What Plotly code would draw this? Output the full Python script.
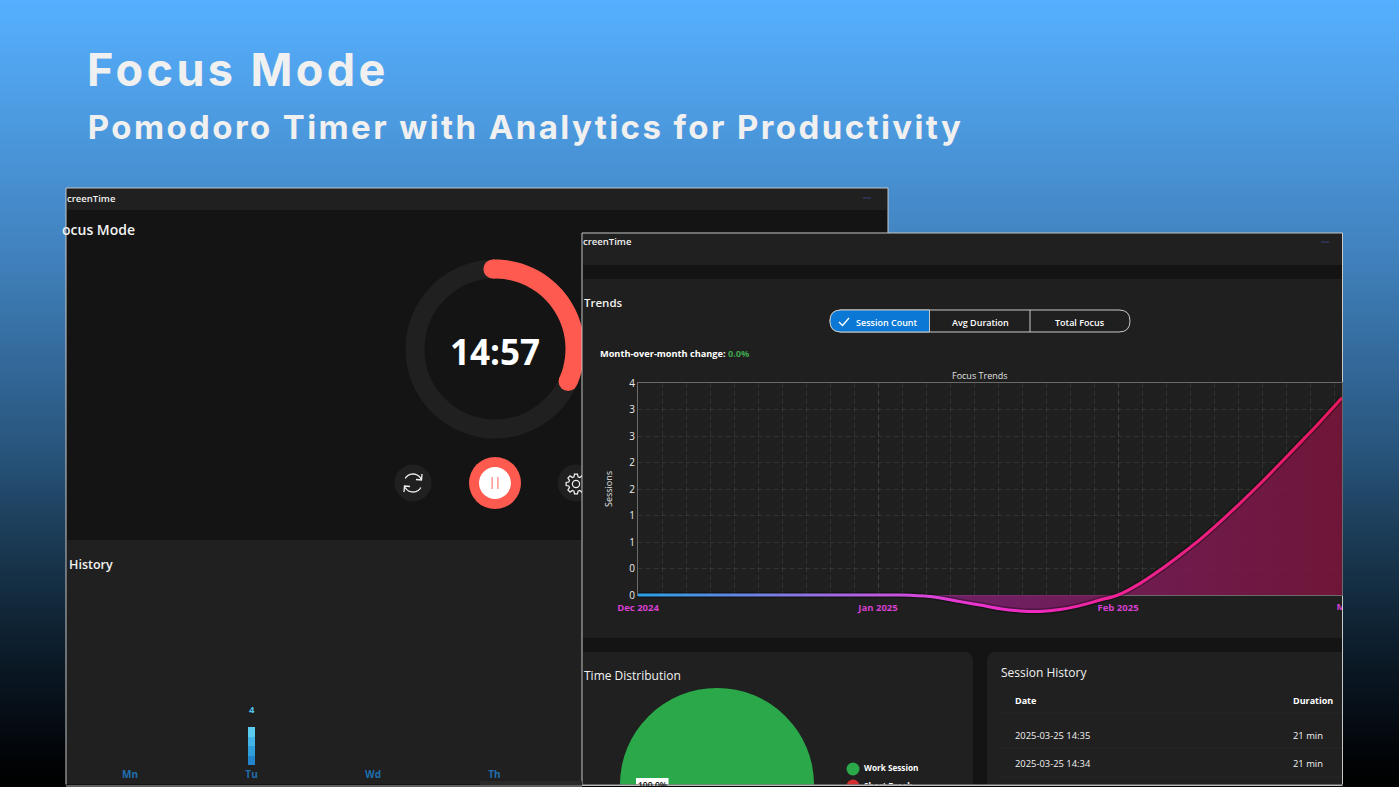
import json

import numpy as np
import plotly.graph_objects as go

PAGE_W = 1399
PAGE_H = 890  # taller than the window so the pie can run off the bottom
SHOT_H = 787

# Focus trends chart
trend_months = ["Dec 2024", "Jan 2025", "Feb 2025", "Mar 2025"]
trend_ticks = [0, 0.5, 1, 1.5, 2, 2.5, 3, 3.5, 4]
trend_tick_text = ["0", "0", "1", "1", "2", "2", "3", "3", "4"]
# position in months after Dec 2024
curve_month = [0, 0.5, 1.0, 1.09, 1.217, 1.342, 1.425, 1.508, 1.592, 1.675, 1.758, 1.842, 1.925, 2.0,
               2.092, 2.175, 2.258, 2.342, 2.425, 2.508, 2.592, 2.675, 2.758, 2.842, 2.933]
curve_sessions = [0, 0, 0, 0, -0.03, -0.125, -0.19, -0.26, -0.3, -0.31, -0.275, -0.2, -0.095, 0,
                  0.22, 0.47, 0.75, 1.05, 1.38, 1.73, 2.1, 2.48, 2.87, 3.27, 3.72]
# line colour along the x axis, as fraction of the plot width
curve_stops = [0, 0.17, 0.34, 0.46, 0.57, 0.68, 1]
curve_colors = ["#28a0e8", "#6e82e4", "#be5ae1", "#e837d2", "#f028be", "#f02396", "#e8185f"]

# Daily history bars
days = ["Mn", "Tu", "Wd", "Th"]
day_sessions = [0, 4, 0, 0]
day_bar_colors = ["#2384cc", "#2f9fdc", "#42b4e8", "#5bcbee"]

# Time distribution pie
dist_labels = ["Work Session", "Short Break"]
dist_values = [100, 0]
dist_colors = ["#2ba84a", "#d32f2f"]

# Session table
session_dates = ["2025-03-25 14:35", "2025-03-25 14:34"]
session_durations = ["21 min", "21 min"]

# Timer ring
timer_start_deg = -1.5
timer_sweep_deg = 115.5


def X(x):
    return x / PAGE_W


def Y(y):
    return 1 - y / PAGE_H


def x_dom(a, b):
    return [X(a), X(b)]


def y_dom(top, bottom):
    return [Y(bottom), Y(top)]


shapes = []
notes = []


def rect(x0, y0, x1, y1, color, layer="below", line_color=None, line_width=0):
    shapes.append(dict(type="rect", xref="paper", yref="paper", x0=X(x0), x1=X(x1), y0=Y(y0), y1=Y(y1),
                       fillcolor=color, layer=layer,
                       line=dict(color=line_color or color, width=line_width)))


def circle(cx, cy, r, color, layer="below", line_color=None, line_width=0):
    shapes.append(dict(type="circle", xref="paper", yref="paper", x0=X(cx - r), x1=X(cx + r), y0=Y(cy - r), y1=Y(cy + r),
                       fillcolor=color, layer=layer,
                       line=dict(color=line_color or color, width=line_width)))


def path(d_points, color, width, fill=None, layer="below"):
    shapes.append(dict(type="path", xref="paper", yref="paper", path=d_points, layer=layer,
                       fillcolor=fill or "rgba(0,0,0,0)", line=dict(color=color, width=width)))


def hline(x0, x1, y0, y1, color, width=1):
    shapes.append(dict(type="line", xref="paper", yref="paper", x0=X(x0), x1=X(x1), y0=Y(y0), y1=Y(y1), layer="below",
                       line=dict(color=color, width=width)))


def pts(points):
    return "M" + " L".join(f"{X(x):.5f},{Y(y):.5f}" for x, y in points)


def rounded(x0, y0, x1, y1, r_left, r_right, bottom_round=True):
    # rounded rectangle path, in pixels
    parts = [f"M{X(x0 + r_left):.5f},{Y(y0):.5f}", f"L{X(x1 - r_right):.5f},{Y(y0):.5f}",
             f"Q{X(x1):.5f},{Y(y0):.5f} {X(x1):.5f},{Y(y0 + r_right):.5f}"]
    if bottom_round:
        parts += [f"L{X(x1):.5f},{Y(y1 - r_right):.5f}", f"Q{X(x1):.5f},{Y(y1):.5f} {X(x1 - r_right):.5f},{Y(y1):.5f}",
                  f"L{X(x0 + r_left):.5f},{Y(y1):.5f}", f"Q{X(x0):.5f},{Y(y1):.5f} {X(x0):.5f},{Y(y1 - r_left):.5f}"]
    else:
        parts += [f"L{X(x1):.5f},{Y(y1):.5f}", f"L{X(x0):.5f},{Y(y1):.5f}"]
    parts += [f"L{X(x0):.5f},{Y(y0 + r_left):.5f}", f"Q{X(x0):.5f},{Y(y0):.5f} {X(x0 + r_left):.5f},{Y(y0):.5f}", "Z"]
    return " ".join(parts)


def arc(cx, cy, r, start, sweep, n=40):
    a = np.radians(np.linspace(start, start + sweep, n))
    return list(zip(cx + r * np.sin(a), cy - r * np.cos(a)))


def gear(cx, cy, r_out, r_in, teeth=8):
    # outline of a cog, going round tooth by tooth
    corners = []
    step = 360 / teeth
    for i in range(teeth):
        base = i * step
        for off, r in [(-0.34, r_in), (-0.2, r_out), (0.2, r_out), (0.34, r_in)]:
            a = np.radians(base + off * step)
            corners.append((cx + r * np.sin(a), cy - r * np.cos(a)))
    return pts(corners) + " Z"


def note(x, y, text, size, color="#f2f2f2", anchor="left", family="Open Sans", weight=400, angle=0):
    notes.append(dict(xref="paper", yref="paper", x=X(x), y=Y(y), text=text, showarrow=False,
                      xanchor=anchor, yanchor="middle", textangle=angle, borderpad=0, borderwidth=0,
                      font=dict(family=family, size=size, color=color, weight=weight)))


# ---- left window
rect(66, 188, 888, 787, "#141414", line_color="#c9c9c9", line_width=1)
rect(67, 189, 887, 210, "#202020")
rect(67, 540, 582, 786, "#202020")
note(67, 198, "creenTime", 9.5, "#f2f2f2", weight=600)
note(62, 229, "ocus Mode", 14, weight=600)
note(69, 564, "History", 12.5, weight=600)
hline(863, 871, 198, 198, "#3b3f7a")

# timer ring
circle(495, 349, 80, "rgba(0,0,0,0)", line_color="#202020", line_width=19)
ring_arc = arc(495, 349, 80, timer_start_deg, timer_sweep_deg)
path(pts(ring_arc), "#ff5a4f", 19)
circle(ring_arc[0][0], ring_arc[0][1], 9.5, "#ff5a4f")
circle(ring_arc[-1][0], ring_arc[-1][1], 9.5, "#ff5a4f")
note(495, 351, "14:57", 35, "#ffffff", "center", weight=700)

# buttons
circle(413, 483, 18.5, "#202020")
path(pts(arc(413, 483, 9, -60, 125)), "#f2f2f2", 1.3)
path(pts(arc(413, 483, 9, 120, 125)), "#f2f2f2", 1.3)
path(pts([(422, 474), (421.5, 480), (416, 479.5)]), "#f2f2f2", 1.3)
path(pts([(404, 492), (404.5, 486), (410, 486.5)]), "#f2f2f2", 1.3)
circle(495, 483, 26, "#ff5a4f")
circle(495, 483, 16, "#ffffff")
rect(491.5, 477, 492.8, 489, "#ff8a80")
rect(497.2, 477, 498.5, 489, "#ff8a80")
circle(576, 483, 18.5, "#202020")
path(gear(576, 484, 10, 7.5), "#f2f2f2", 1.2)
circle(576, 484, 3.6, "rgba(0,0,0,0)", line_color="#f2f2f2", line_width=1.2)

# ---- right window
rect(582, 233, 1342.5, 787, "#141414", line_color="#c9c9c9", line_width=1)
rect(583, 234, 1342, 265, "#202020")
rect(583, 279, 1342, 638, "#1f1f1f")
path(rounded(583, 652, 973, 800, 0, 9), "#202020", 0, fill="#202020")
path(rounded(987, 652, 1342, 800, 9, 0), "#202020", 0, fill="#202020")
note(583, 242, "creenTime", 9.5, "#f2f2f2", weight=600)
note(584, 302, "Trends", 11.5, weight=600)
hline(1321, 1329, 242, 242, "#3b3f7a")

# segmented control
path(rounded(830, 310, 1130, 332, 11, 11), "#c9c9c9", 1, fill="#1f1f1f")
path(rounded(830, 310, 929.5, 332, 11, 0), "#c9c9c9", 1, fill="#0a78d4")
hline(1030, 1030, 310, 332, "#c9c9c9")
path(pts([(839, 322), (842.5, 325.5), (849, 318)]), "#ffffff", 1.4)
note(887, 322, "Session Count", 9, "#ffffff", "center", weight=600)
note(980, 322, "Avg Duration", 9, "#ffffff", "center", weight=600)
note(1080, 322, "Total Focus", 9, "#ffffff", "center", weight=600)

note(600, 353, "Month-over-month change: <span style='color:#3fa34d'>0.0%</span>", 9.2, "#ffffff", weight=700)
note(980, 375, "Focus Trends", 9, "#e0e0e0", "center")

# table
note(1001, 672, "Session History", 12, weight=500)
note(1015, 700, "Date", 9, "#ffffff", weight=700)
note(1293, 700, "Duration", 9, "#ffffff", weight=700)
for i, row_y in enumerate([735, 763]):
    note(1015, row_y, session_dates[i], 9.4, "#f2f2f2", weight=500)
    note(1293, row_y, session_durations[i], 9.4, "#f2f2f2", weight=500)
for row_y in [713, 748, 777]:
    hline(1001, 1342, row_y, row_y, "#272727")

note(584, 675, "Time Distribution", 12, weight=500)

fig = go.Figure()

# empty trace so the grid axes exist, the data is on x2/y2 because the dip runs below zero
fig.add_trace(go.Scatter(x=[0], y=[0], mode="markers", marker=dict(opacity=0), showlegend=False, hoverinfo="skip"))

# filled area under the curve
fig.add_trace(go.Scatter(x=curve_month, y=curve_sessions, mode="lines", xaxis="x2", yaxis="y2",
                         line=dict(width=0, shape="spline"), fill="tozeroy", showlegend=False, hoverinfo="skip",
                         fillgradient=dict(type="horizontal",
                                           colorscale=[[0, "rgba(110,40,130,0.85)"], [0.5, "rgba(125,32,110,0.85)"],
                                                       [1, "rgba(125,20,60,0.85)"]])))
# soft shadow, then the line (stroke gradient is set in page_fix below)
fig.add_trace(go.Scatter(x=curve_month, y=curve_sessions, mode="lines", xaxis="x2", yaxis="y2",
                         line=dict(width=6, shape="spline", color="rgba(0,0,0,0.3)"), showlegend=False, hoverinfo="skip"))
fig.add_trace(go.Scatter(x=curve_month, y=curve_sessions, mode="lines", xaxis="x2", yaxis="y2",
                         line=dict(width=3, shape="spline", color="#f02396"), showlegend=False, hoverinfo="skip"))
# Mar 2025 tick sits past the window edge, only the start of it shows
fig.add_trace(go.Scatter(x=[3], y=[-13 / 53], mode="text", xaxis="x2", yaxis="y2", text=trend_months[3:], showlegend=False,
                         hoverinfo="skip", textposition="middle center", cliponaxis=True,
                         textfont=dict(family="Open Sans", size=9.5, color="#d63fd0", weight=700)))

# one stacked piece per session gives the bar its light-to-dark fade, only the top piece is rounded
for k, bar_color in enumerate(day_bar_colors):
    fig.add_trace(go.Bar(x=days, y=[1 if v > k else None for v in day_sessions], xaxis="x3", yaxis="y3", width=0.05,
                         showlegend=False, hoverinfo="skip",
                         marker=dict(color=bar_color, line=dict(width=0), cornerradius=3 if k == 3 else 0)))

# legend dots sit under the top layer so they get cut at the window edge
fig.add_trace(go.Scatter(x=[853, 853], y=[769, 786], mode="markers", xaxis="x4", yaxis="y4", showlegend=False,
                         marker=dict(size=13, color=dist_colors), hoverinfo="skip"))
fig.add_trace(go.Scatter(x=[864, 864], y=[769, 787], mode="text", xaxis="x4", yaxis="y4", showlegend=False,
                         text=dist_labels, textposition="middle right", hoverinfo="skip",
                         textfont=dict(family="Open Sans", size=8.2, color="#ffffff", weight=700)))

fig.add_trace(go.Pie(labels=dist_labels, values=dist_values, sort=False, direction="clockwise", showlegend=False,
                     marker=dict(colors=dist_colors, line=dict(width=0)), textinfo="none", hoverinfo="skip",
                     domain=dict(x=x_dom(620, 814), y=y_dom(688, 882))))

# pie label box, cut by the window bottom
rect(636, 778, 668.5, 790, "#ffffff", layer="above")
note(652, 784, "100.0%", 8.5, "#111111", "center", weight=600)

# window bottom edge
rect(0, 784.5, 1399, 790, "#020406", layer="above")
rect(582, 784.5, 1342.5, 786, "#b9b9b9", layer="above")
rect(66, 785.5, 582, 786.5, "#b9b9b9", layer="above")
rect(480, 781, 582, 785, "#2a2a2a", layer="above")

grid_color = "rgba(255,255,255,0.09)"
grid_dash = "5px,3px"
fig.update_layout(
    width=PAGE_W, height=PAGE_H, margin=dict(l=0, r=0, t=0, b=0), autosize=False, barmode="stack",
    paper_bgcolor="#000000", plot_bgcolor="rgba(0,0,0,0)", showlegend=False,
    xaxis=dict(domain=x_dom(638, 1342), range=[0, 2.933], tickmode="array", tickvals=[0, 1, 2], ticktext=trend_months[:3],
               tickfont=dict(family="Open Sans", size=9.5, color="#d63fd0", weight=700), ticks="", ticklabelstandoff=4,
               showgrid=True, gridcolor="rgba(255,255,255,0.07)", griddash=grid_dash, gridwidth=1, zeroline=False,
               showline=True, linecolor="#6a6a6a", linewidth=1, mirror=True, automargin=False,
               minor=dict(tick0=0, dtick=0.1, showgrid=True, gridcolor=grid_color, griddash=grid_dash, gridwidth=1)),
    yaxis=dict(domain=y_dom(383, 595), range=[0, 4], tickmode="array", tickvals=trend_ticks, ticktext=trend_tick_text,
               tickfont=dict(family="Open Sans", size=10, color="#ececec"), ticks="", automargin=False,
               title=dict(text="Sessions", font=dict(family="Open Sans", size=9, color="#e0e0e0"), standoff=15),
               showgrid=True, gridcolor=grid_color, griddash=grid_dash, gridwidth=1, zeroline=False,
               showline=True, linecolor="#6a6a6a", linewidth=1, mirror=True),
    xaxis2=dict(domain=x_dom(638, 1342), range=[0, 2.933], visible=False, anchor="y2", automargin=False),
    yaxis2=dict(domain=y_dom(383, 625), range=[-30 / 53, 4], visible=False, anchor="x2", automargin=False),
    xaxis3=dict(domain=x_dom(66, 582), range=[-0.527, 3.72], anchor="y3", showgrid=False, zeroline=False, showline=False,
                ticks="", automargin=False, ticklabelstandoff=2,
                tickfont=dict(family="Open Sans", size=10, color="#1f6fb0", weight=700)),
    yaxis3=dict(domain=y_dom(690, 765), range=[0, 7.9], anchor="x3", visible=False, automargin=False),
    xaxis4=dict(domain=[0, 1], range=[0, PAGE_W], anchor="y4", visible=False, automargin=False),
    yaxis4=dict(domain=[0, 1], range=[PAGE_H, 0], anchor="x4", visible=False, automargin=False),
    shapes=shapes,
    images=[dict(source="data:image/svg+xml;utf8,<svg xmlns='http://www.w3.org/2000/svg' width='1399' height='787'>"
                        "<defs><linearGradient id='g' x1='0' y1='0' x2='0' y2='1'>"
                        "<stop offset='0' stop-color='%2356b0ff'/><stop offset='0.32' stop-color='%234182be'/>"
                        "<stop offset='0.57' stop-color='%2328557d'/><stop offset='0.7' stop-color='%2319374f'/>"
                        "<stop offset='0.826' stop-color='%230c1c2a'/><stop offset='0.95' stop-color='%2302060a'/>"
                        "<stop offset='1' stop-color='%23000000'/></linearGradient></defs>"
                        "<rect width='1399' height='787' fill='url(%23g)'/></svg>",
                 xref="paper", yref="paper", x=0, y=1, sizex=1, sizey=SHOT_H / PAGE_H, sizing="stretch",
                 xanchor="left", yanchor="top", layer="below")],
    annotations=notes + [
        dict(xref="paper", yref="paper", x=X(237.5), y=Y(70), text="Focus Mode", showarrow=False, xanchor="center", yanchor="middle",
             font=dict(family="Inter", size=45, color="#f0f0f0", weight=700)),
        dict(xref="paper", yref="paper", x=X(525.5), y=Y(127), text="Pomodoro Timer with Analytics for Productivity", showarrow=False,
             xanchor="center", yanchor="middle", font=dict(family="Inter", size=33, color="#f0f0f0", weight=700)),
        dict(xref="x3", yref="y3", x=days[1], y=day_sessions[1], yshift=18, text=str(day_sessions[1]), showarrow=False,
             font=dict(family="Open Sans", size=9.5, color="#4fc3e8", weight=700)),
    ],
)

# plotly has no line gradient or letter spacing, so those two go in once the page is drawn
stops_js = json.dumps(list(zip(curve_stops, curve_colors)))
page_fix = """
document.body.style.margin = '0';
document.documentElement.style.overflow = 'hidden';
document.querySelectorAll('.annotation-text').forEach(function (t) {
  if (t.textContent === 'Focus Mode') t.style.letterSpacing = '3.4px';
  if (t.textContent.indexOf('Pomodoro') === 0) t.style.letterSpacing = '2.4px';
});
var NS = 'http://www.w3.org/2000/svg';
var grad = document.createElementNS(NS, 'linearGradient');
grad.setAttribute('id', 'curve-grad');
STOPS.forEach(function (s) {
  var st = document.createElementNS(NS, 'stop');
  st.setAttribute('offset', s[0]);
  st.setAttribute('stop-color', s[1]);
  grad.appendChild(st);
});
document.querySelector('.main-svg defs').appendChild(grad);
var lines = document.querySelectorAll('.scatterlayer .trace .js-line');
lines.forEach(function (l) {
  if (l.style.stroke.indexOf('240, 35, 150') >= 0) l.style.stroke = 'url(#curve-grad)';
});
""".replace("STOPS", stops_js)
fig.write_html("out.html", config=dict(displayModeBar=False), post_script=page_fix)
